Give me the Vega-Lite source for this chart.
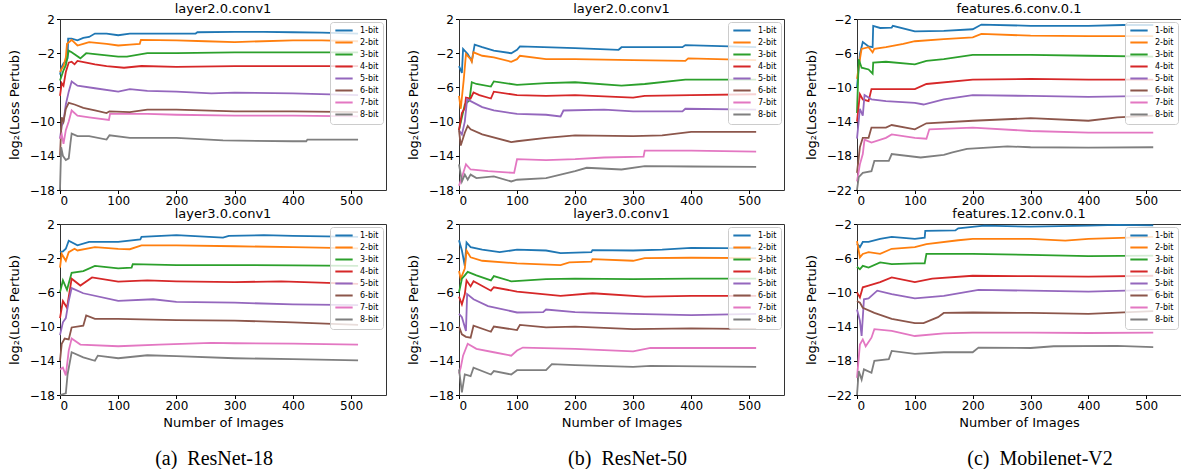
{
"$schema": "https://vega.github.io/schema/vega-lite/v6.json",
"padding": {"left": 7, "top": 2, "right": 0, "bottom": 0},
"background": "white",
"datasets": {"d": [
{"p":"a1","b":"1-bit","n":0,"v":-4.5},{"p":"a1","b":"1-bit","n":3,"v":-3.6},{"p":"a1","b":"1-bit","n":6,"v":-3.2},{"p":"a1","b":"1-bit","n":10,"v":-3.0},{"p":"a1","b":"1-bit","n":13,"v":-2.6},{"p":"a1","b":"1-bit","n":14,"v":-0.3},{"p":"a1","b":"1-bit","n":20,"v":-0.3},{"p":"a1","b":"1-bit","n":30,"v":-0.5},{"p":"a1","b":"1-bit","n":40,"v":-0.2},{"p":"a1","b":"1-bit","n":50,"v":-0.1},{"p":"a1","b":"1-bit","n":60,"v":0.3},{"p":"a1","b":"1-bit","n":80,"v":0.3},{"p":"a1","b":"1-bit","n":100,"v":0.1},{"p":"a1","b":"1-bit","n":120,"v":0.3},{"p":"a1","b":"1-bit","n":150,"v":0.3},{"p":"a1","b":"1-bit","n":200,"v":0.3},{"p":"a1","b":"1-bit","n":233,"v":0.3},{"p":"a1","b":"1-bit","n":236,"v":0.45},{"p":"a1","b":"1-bit","n":300,"v":0.5},{"p":"a1","b":"1-bit","n":350,"v":0.5},{"p":"a1","b":"1-bit","n":400,"v":0.45},{"p":"a1","b":"1-bit","n":450,"v":0.4},{"p":"a1","b":"1-bit","n":512,"v":0.3},
{"p":"a1","b":"2-bit","n":0,"v":-4.2},{"p":"a1","b":"2-bit","n":3,"v":-3.8},{"p":"a1","b":"2-bit","n":6,"v":-3.5},{"p":"a1","b":"2-bit","n":10,"v":-2.5},{"p":"a1","b":"2-bit","n":12,"v":-0.9},{"p":"a1","b":"2-bit","n":20,"v":-0.45},{"p":"a1","b":"2-bit","n":30,"v":-1.1},{"p":"a1","b":"2-bit","n":40,"v":-0.9},{"p":"a1","b":"2-bit","n":50,"v":-0.7},{"p":"a1","b":"2-bit","n":80,"v":-0.9},{"p":"a1","b":"2-bit","n":100,"v":-1.1},{"p":"a1","b":"2-bit","n":120,"v":-1.0},{"p":"a1","b":"2-bit","n":137,"v":-0.9},{"p":"a1","b":"2-bit","n":139,"v":-0.45},{"p":"a1","b":"2-bit","n":200,"v":-0.5},{"p":"a1","b":"2-bit","n":250,"v":-0.6},{"p":"a1","b":"2-bit","n":300,"v":-0.7},{"p":"a1","b":"2-bit","n":400,"v":-0.5},{"p":"a1","b":"2-bit","n":450,"v":-0.5},{"p":"a1","b":"2-bit","n":512,"v":-0.6},
{"p":"a1","b":"3-bit","n":0,"v":-5.2},{"p":"a1","b":"3-bit","n":3,"v":-4.6},{"p":"a1","b":"3-bit","n":6,"v":-4.0},{"p":"a1","b":"3-bit","n":10,"v":-3.4},{"p":"a1","b":"3-bit","n":15,"v":-1.7},{"p":"a1","b":"3-bit","n":20,"v":-1.9},{"p":"a1","b":"3-bit","n":35,"v":-2.6},{"p":"a1","b":"3-bit","n":45,"v":-2.0},{"p":"a1","b":"3-bit","n":60,"v":-2.1},{"p":"a1","b":"3-bit","n":100,"v":-2.4},{"p":"a1","b":"3-bit","n":115,"v":-2.4},{"p":"a1","b":"3-bit","n":150,"v":-2.0},{"p":"a1","b":"3-bit","n":200,"v":-2.0},{"p":"a1","b":"3-bit","n":300,"v":-1.9},{"p":"a1","b":"3-bit","n":400,"v":-1.9},{"p":"a1","b":"3-bit","n":512,"v":-1.9},
{"p":"a1","b":"4-bit","n":0,"v":-7.0},{"p":"a1","b":"4-bit","n":3,"v":-5.5},{"p":"a1","b":"4-bit","n":6,"v":-5.8},{"p":"a1","b":"4-bit","n":10,"v":-4.2},{"p":"a1","b":"4-bit","n":15,"v":-3.1},{"p":"a1","b":"4-bit","n":20,"v":-3.0},{"p":"a1","b":"4-bit","n":25,"v":-3.3},{"p":"a1","b":"4-bit","n":30,"v":-2.9},{"p":"a1","b":"4-bit","n":45,"v":-3.1},{"p":"a1","b":"4-bit","n":60,"v":-3.3},{"p":"a1","b":"4-bit","n":80,"v":-3.5},{"p":"a1","b":"4-bit","n":110,"v":-3.7},{"p":"a1","b":"4-bit","n":140,"v":-3.5},{"p":"a1","b":"4-bit","n":200,"v":-3.6},{"p":"a1","b":"4-bit","n":300,"v":-3.5},{"p":"a1","b":"4-bit","n":400,"v":-3.5},{"p":"a1","b":"4-bit","n":512,"v":-3.5},
{"p":"a1","b":"5-bit","n":0,"v":-12},{"p":"a1","b":"5-bit","n":3,"v":-10.5},{"p":"a1","b":"5-bit","n":6,"v":-10},{"p":"a1","b":"5-bit","n":10,"v":-8},{"p":"a1","b":"5-bit","n":15,"v":-6.5},{"p":"a1","b":"5-bit","n":20,"v":-5.3},{"p":"a1","b":"5-bit","n":30,"v":-5.8},{"p":"a1","b":"5-bit","n":60,"v":-6.1},{"p":"a1","b":"5-bit","n":100,"v":-6.5},{"p":"a1","b":"5-bit","n":120,"v":-6.2},{"p":"a1","b":"5-bit","n":150,"v":-6.4},{"p":"a1","b":"5-bit","n":200,"v":-6.5},{"p":"a1","b":"5-bit","n":260,"v":-6.7},{"p":"a1","b":"5-bit","n":300,"v":-6.6},{"p":"a1","b":"5-bit","n":400,"v":-6.7},{"p":"a1","b":"5-bit","n":512,"v":-6.9},
{"p":"a1","b":"6-bit","n":0,"v":-14},{"p":"a1","b":"6-bit","n":3,"v":-9.5},{"p":"a1","b":"6-bit","n":6,"v":-10},{"p":"a1","b":"6-bit","n":10,"v":-8.5},{"p":"a1","b":"6-bit","n":15,"v":-7.8},{"p":"a1","b":"6-bit","n":25,"v":-8.0},{"p":"a1","b":"6-bit","n":40,"v":-8.4},{"p":"a1","b":"6-bit","n":60,"v":-8.7},{"p":"a1","b":"6-bit","n":80,"v":-9.0},{"p":"a1","b":"6-bit","n":85,"v":-8.8},{"p":"a1","b":"6-bit","n":120,"v":-8.9},{"p":"a1","b":"6-bit","n":150,"v":-8.6},{"p":"a1","b":"6-bit","n":200,"v":-8.6},{"p":"a1","b":"6-bit","n":300,"v":-8.8},{"p":"a1","b":"6-bit","n":400,"v":-8.8},{"p":"a1","b":"6-bit","n":512,"v":-8.9},
{"p":"a1","b":"7-bit","n":0,"v":-12},{"p":"a1","b":"7-bit","n":3,"v":-11.5},{"p":"a1","b":"7-bit","n":6,"v":-12.6},{"p":"a1","b":"7-bit","n":10,"v":-11},{"p":"a1","b":"7-bit","n":15,"v":-10},{"p":"a1","b":"7-bit","n":20,"v":-8.7},{"p":"a1","b":"7-bit","n":30,"v":-9.3},{"p":"a1","b":"7-bit","n":50,"v":-9.5},{"p":"a1","b":"7-bit","n":84,"v":-9.8},{"p":"a1","b":"7-bit","n":86,"v":-9.1},{"p":"a1","b":"7-bit","n":150,"v":-9.1},{"p":"a1","b":"7-bit","n":200,"v":-9.2},{"p":"a1","b":"7-bit","n":300,"v":-9.3},{"p":"a1","b":"7-bit","n":400,"v":-9.3},{"p":"a1","b":"7-bit","n":512,"v":-9.4},
{"p":"a1","b":"8-bit","n":0,"v":-18},{"p":"a1","b":"8-bit","n":2,"v":-13},{"p":"a1","b":"8-bit","n":5,"v":-14},{"p":"a1","b":"8-bit","n":10,"v":-14.5},{"p":"a1","b":"8-bit","n":15,"v":-14.3},{"p":"a1","b":"8-bit","n":18,"v":-12.5},{"p":"a1","b":"8-bit","n":20,"v":-11.4},{"p":"a1","b":"8-bit","n":30,"v":-11.7},{"p":"a1","b":"8-bit","n":50,"v":-11.7},{"p":"a1","b":"8-bit","n":80,"v":-12.1},{"p":"a1","b":"8-bit","n":85,"v":-11.6},{"p":"a1","b":"8-bit","n":120,"v":-11.9},{"p":"a1","b":"8-bit","n":200,"v":-11.9},{"p":"a1","b":"8-bit","n":280,"v":-12.2},{"p":"a1","b":"8-bit","n":400,"v":-12.3},{"p":"a1","b":"8-bit","n":423,"v":-12.3},{"p":"a1","b":"8-bit","n":425,"v":-12.1},{"p":"a1","b":"8-bit","n":512,"v":-12.1},

{"p":"a2","b":"1-bit","n":0,"v":-1.3},{"p":"a2","b":"1-bit","n":5,"v":-1.2},{"p":"a2","b":"1-bit","n":10,"v":-0.9},{"p":"a2","b":"1-bit","n":15,"v":0.05},{"p":"a2","b":"1-bit","n":30,"v":-0.5},{"p":"a2","b":"1-bit","n":50,"v":-0.1},{"p":"a2","b":"1-bit","n":100,"v":-0.1},{"p":"a2","b":"1-bit","n":138,"v":0.2},{"p":"a2","b":"1-bit","n":140,"v":0.5},{"p":"a2","b":"1-bit","n":200,"v":0.7},{"p":"a2","b":"1-bit","n":280,"v":0.4},{"p":"a2","b":"1-bit","n":290,"v":0.6},{"p":"a2","b":"1-bit","n":350,"v":0.7},{"p":"a2","b":"1-bit","n":400,"v":0.6},{"p":"a2","b":"1-bit","n":512,"v":0.5},
{"p":"a2","b":"2-bit","n":0,"v":-3.1},{"p":"a2","b":"2-bit","n":3,"v":-1.5},{"p":"a2","b":"2-bit","n":10,"v":-2.3},{"p":"a2","b":"2-bit","n":15,"v":-1.3},{"p":"a2","b":"2-bit","n":25,"v":-0.9},{"p":"a2","b":"2-bit","n":30,"v":-1.1},{"p":"a2","b":"2-bit","n":60,"v":-0.7},{"p":"a2","b":"2-bit","n":100,"v":-0.9},{"p":"a2","b":"2-bit","n":120,"v":-0.95},{"p":"a2","b":"2-bit","n":140,"v":-0.5},{"p":"a2","b":"2-bit","n":200,"v":-0.5},{"p":"a2","b":"2-bit","n":300,"v":-0.6},{"p":"a2","b":"2-bit","n":400,"v":-0.7},{"p":"a2","b":"2-bit","n":512,"v":-0.85},
{"p":"a2","b":"3-bit","n":0,"v":-6.0},{"p":"a2","b":"3-bit","n":5,"v":-4.6},{"p":"a2","b":"3-bit","n":12,"v":-5.7},{"p":"a2","b":"3-bit","n":20,"v":-3.7},{"p":"a2","b":"3-bit","n":40,"v":-3.5},{"p":"a2","b":"3-bit","n":60,"v":-2.9},{"p":"a2","b":"3-bit","n":100,"v":-3.2},{"p":"a2","b":"3-bit","n":123,"v":-3.1},{"p":"a2","b":"3-bit","n":125,"v":-2.7},{"p":"a2","b":"3-bit","n":200,"v":-2.8},{"p":"a2","b":"3-bit","n":300,"v":-2.8},{"p":"a2","b":"3-bit","n":400,"v":-2.85},{"p":"a2","b":"3-bit","n":512,"v":-2.9},
{"p":"a2","b":"4-bit","n":0,"v":-9},{"p":"a2","b":"4-bit","n":5,"v":-7},{"p":"a2","b":"4-bit","n":12,"v":-7.8},{"p":"a2","b":"4-bit","n":20,"v":-4.4},{"p":"a2","b":"4-bit","n":35,"v":-5.2},{"p":"a2","b":"4-bit","n":55,"v":-4.25},{"p":"a2","b":"4-bit","n":100,"v":-4.75},{"p":"a2","b":"4-bit","n":150,"v":-4.6},{"p":"a2","b":"4-bit","n":200,"v":-4.7},{"p":"a2","b":"4-bit","n":300,"v":-4.8},{"p":"a2","b":"4-bit","n":380,"v":-4.7},{"p":"a2","b":"4-bit","n":512,"v":-5.0},
{"p":"a2","b":"5-bit","n":0,"v":-11},{"p":"a2","b":"5-bit","n":5,"v":-9.5},{"p":"a2","b":"5-bit","n":10,"v":-9},{"p":"a2","b":"5-bit","n":15,"v":-7},{"p":"a2","b":"5-bit","n":20,"v":-5.5},{"p":"a2","b":"5-bit","n":40,"v":-6.1},{"p":"a2","b":"5-bit","n":100,"v":-7.0},{"p":"a2","b":"5-bit","n":160,"v":-6.8},{"p":"a2","b":"5-bit","n":200,"v":-7.1},{"p":"a2","b":"5-bit","n":300,"v":-7.2},{"p":"a2","b":"5-bit","n":400,"v":-7.4},{"p":"a2","b":"5-bit","n":512,"v":-7.5},
{"p":"a2","b":"6-bit","n":0,"v":-14},{"p":"a2","b":"6-bit","n":3,"v":-12},{"p":"a2","b":"6-bit","n":8,"v":-11.4},{"p":"a2","b":"6-bit","n":15,"v":-11.5},{"p":"a2","b":"6-bit","n":20,"v":-10.1},{"p":"a2","b":"6-bit","n":40,"v":-9.9},{"p":"a2","b":"6-bit","n":45,"v":-8.7},{"p":"a2","b":"6-bit","n":60,"v":-9.1},{"p":"a2","b":"6-bit","n":100,"v":-9.1},{"p":"a2","b":"6-bit","n":200,"v":-9.25},{"p":"a2","b":"6-bit","n":300,"v":-9.3},{"p":"a2","b":"6-bit","n":400,"v":-9.5},{"p":"a2","b":"6-bit","n":512,"v":-9.8},
{"p":"a2","b":"7-bit","n":0,"v":-15},{"p":"a2","b":"7-bit","n":5,"v":-14.8},{"p":"a2","b":"7-bit","n":10,"v":-15.7},{"p":"a2","b":"7-bit","n":15,"v":-12.8},{"p":"a2","b":"7-bit","n":20,"v":-11.4},{"p":"a2","b":"7-bit","n":35,"v":-12.1},{"p":"a2","b":"7-bit","n":100,"v":-12.3},{"p":"a2","b":"7-bit","n":170,"v":-12.1},{"p":"a2","b":"7-bit","n":260,"v":-11.9},{"p":"a2","b":"7-bit","n":300,"v":-11.95},{"p":"a2","b":"7-bit","n":400,"v":-12.0},{"p":"a2","b":"7-bit","n":512,"v":-12.1},
{"p":"a2","b":"8-bit","n":0,"v":-18},{"p":"a2","b":"8-bit","n":10,"v":-17.8},{"p":"a2","b":"8-bit","n":13,"v":-15.6},{"p":"a2","b":"8-bit","n":20,"v":-13.0},{"p":"a2","b":"8-bit","n":40,"v":-13.6},{"p":"a2","b":"8-bit","n":60,"v":-14.0},{"p":"a2","b":"8-bit","n":65,"v":-13.4},{"p":"a2","b":"8-bit","n":100,"v":-13.7},{"p":"a2","b":"8-bit","n":150,"v":-13.35},{"p":"a2","b":"8-bit","n":200,"v":-13.45},{"p":"a2","b":"8-bit","n":300,"v":-13.7},{"p":"a2","b":"8-bit","n":400,"v":-13.8},{"p":"a2","b":"8-bit","n":512,"v":-13.95},

{"p":"b1","b":"1-bit","n":0,"v":-3.5},{"p":"b1","b":"1-bit","n":5,"v":-4.3},{"p":"b1","b":"1-bit","n":7,"v":-1.5},{"p":"b1","b":"1-bit","n":15,"v":-2.1},{"p":"b1","b":"1-bit","n":22,"v":-2.9},{"p":"b1","b":"1-bit","n":27,"v":-1.0},{"p":"b1","b":"1-bit","n":40,"v":-1.3},{"p":"b1","b":"1-bit","n":60,"v":-1.7},{"p":"b1","b":"1-bit","n":90,"v":-2.0},{"p":"b1","b":"1-bit","n":100,"v":-1.6},{"p":"b1","b":"1-bit","n":105,"v":-1.2},{"p":"b1","b":"1-bit","n":200,"v":-1.4},{"p":"b1","b":"1-bit","n":275,"v":-1.6},{"p":"b1","b":"1-bit","n":280,"v":-1.3},{"p":"b1","b":"1-bit","n":385,"v":-1.3},{"p":"b1","b":"1-bit","n":390,"v":-1.05},{"p":"b1","b":"1-bit","n":512,"v":-1.3},
{"p":"b1","b":"2-bit","n":0,"v":-7},{"p":"b1","b":"2-bit","n":3,"v":-8.5},{"p":"b1","b":"2-bit","n":8,"v":-5.2},{"p":"b1","b":"2-bit","n":12,"v":-2.1},{"p":"b1","b":"2-bit","n":20,"v":-2.7},{"p":"b1","b":"2-bit","n":22,"v":-3.0},{"p":"b1","b":"2-bit","n":25,"v":-1.9},{"p":"b1","b":"2-bit","n":40,"v":-2.3},{"p":"b1","b":"2-bit","n":60,"v":-2.5},{"p":"b1","b":"2-bit","n":90,"v":-3.0},{"p":"b1","b":"2-bit","n":100,"v":-2.7},{"p":"b1","b":"2-bit","n":105,"v":-2.3},{"p":"b1","b":"2-bit","n":150,"v":-2.7},{"p":"b1","b":"2-bit","n":200,"v":-2.7},{"p":"b1","b":"2-bit","n":300,"v":-2.8},{"p":"b1","b":"2-bit","n":390,"v":-2.9},{"p":"b1","b":"2-bit","n":395,"v":-2.6},{"p":"b1","b":"2-bit","n":512,"v":-2.8},
{"p":"b1","b":"3-bit","n":0,"v":-11},{"p":"b1","b":"3-bit","n":10,"v":-8},{"p":"b1","b":"3-bit","n":18,"v":-7.5},{"p":"b1","b":"3-bit","n":22,"v":-5.4},{"p":"b1","b":"3-bit","n":30,"v":-5.6},{"p":"b1","b":"3-bit","n":55,"v":-5.9},{"p":"b1","b":"3-bit","n":60,"v":-5.3},{"p":"b1","b":"3-bit","n":100,"v":-5.7},{"p":"b1","b":"3-bit","n":150,"v":-5.5},{"p":"b1","b":"3-bit","n":200,"v":-5.4},{"p":"b1","b":"3-bit","n":280,"v":-5.8},{"p":"b1","b":"3-bit","n":320,"v":-5.6},{"p":"b1","b":"3-bit","n":390,"v":-5.1},{"p":"b1","b":"3-bit","n":512,"v":-5.1},
{"p":"b1","b":"4-bit","n":0,"v":-11},{"p":"b1","b":"4-bit","n":5,"v":-9},{"p":"b1","b":"4-bit","n":10,"v":-8.4},{"p":"b1","b":"4-bit","n":12,"v":-7.2},{"p":"b1","b":"4-bit","n":20,"v":-7.3},{"p":"b1","b":"4-bit","n":25,"v":-6.6},{"p":"b1","b":"4-bit","n":35,"v":-6.9},{"p":"b1","b":"4-bit","n":55,"v":-7.3},{"p":"b1","b":"4-bit","n":60,"v":-6.5},{"p":"b1","b":"4-bit","n":100,"v":-6.9},{"p":"b1","b":"4-bit","n":150,"v":-7.0},{"p":"b1","b":"4-bit","n":200,"v":-6.9},{"p":"b1","b":"4-bit","n":300,"v":-7.2},{"p":"b1","b":"4-bit","n":320,"v":-7.0},{"p":"b1","b":"4-bit","n":400,"v":-6.9},{"p":"b1","b":"4-bit","n":512,"v":-6.8},
{"p":"b1","b":"5-bit","n":0,"v":-11},{"p":"b1","b":"5-bit","n":5,"v":-11.5},{"p":"b1","b":"5-bit","n":10,"v":-10},{"p":"b1","b":"5-bit","n":14,"v":-7.4},{"p":"b1","b":"5-bit","n":20,"v":-7.6},{"p":"b1","b":"5-bit","n":40,"v":-8.3},{"p":"b1","b":"5-bit","n":60,"v":-8.7},{"p":"b1","b":"5-bit","n":100,"v":-9.1},{"p":"b1","b":"5-bit","n":150,"v":-9.2},{"p":"b1","b":"5-bit","n":175,"v":-9.4},{"p":"b1","b":"5-bit","n":180,"v":-8.7},{"p":"b1","b":"5-bit","n":250,"v":-8.6},{"p":"b1","b":"5-bit","n":300,"v":-8.8},{"p":"b1","b":"5-bit","n":385,"v":-8.8},{"p":"b1","b":"5-bit","n":390,"v":-8.5},{"p":"b1","b":"5-bit","n":512,"v":-8.6},
{"p":"b1","b":"6-bit","n":0,"v":-11},{"p":"b1","b":"6-bit","n":3,"v":-12.8},{"p":"b1","b":"6-bit","n":10,"v":-11.3},{"p":"b1","b":"6-bit","n":15,"v":-10.5},{"p":"b1","b":"6-bit","n":20,"v":-10.9},{"p":"b1","b":"6-bit","n":40,"v":-11.5},{"p":"b1","b":"6-bit","n":90,"v":-12.4},{"p":"b1","b":"6-bit","n":100,"v":-12.3},{"p":"b1","b":"6-bit","n":150,"v":-11.9},{"p":"b1","b":"6-bit","n":200,"v":-11.6},{"p":"b1","b":"6-bit","n":300,"v":-11.7},{"p":"b1","b":"6-bit","n":350,"v":-11.6},{"p":"b1","b":"6-bit","n":400,"v":-11.2},{"p":"b1","b":"6-bit","n":512,"v":-11.2},
{"p":"b1","b":"7-bit","n":0,"v":-17.5},{"p":"b1","b":"7-bit","n":5,"v":-16.5},{"p":"b1","b":"7-bit","n":12,"v":-15.0},{"p":"b1","b":"7-bit","n":20,"v":-15.6},{"p":"b1","b":"7-bit","n":50,"v":-15.8},{"p":"b1","b":"7-bit","n":95,"v":-16.0},{"p":"b1","b":"7-bit","n":100,"v":-14.4},{"p":"b1","b":"7-bit","n":150,"v":-14.5},{"p":"b1","b":"7-bit","n":200,"v":-14.4},{"p":"b1","b":"7-bit","n":250,"v":-14.2},{"p":"b1","b":"7-bit","n":318,"v":-14.1},{"p":"b1","b":"7-bit","n":320,"v":-13.4},{"p":"b1","b":"7-bit","n":400,"v":-13.4},{"p":"b1","b":"7-bit","n":512,"v":-13.5},
{"p":"b1","b":"8-bit","n":0,"v":-15},{"p":"b1","b":"8-bit","n":5,"v":-17},{"p":"b1","b":"8-bit","n":10,"v":-16.2},{"p":"b1","b":"8-bit","n":15,"v":-16.8},{"p":"b1","b":"8-bit","n":20,"v":-16.2},{"p":"b1","b":"8-bit","n":30,"v":-16.6},{"p":"b1","b":"8-bit","n":60,"v":-16.4},{"p":"b1","b":"8-bit","n":90,"v":-17.0},{"p":"b1","b":"8-bit","n":100,"v":-16.8},{"p":"b1","b":"8-bit","n":150,"v":-16.6},{"p":"b1","b":"8-bit","n":175,"v":-16.2},{"p":"b1","b":"8-bit","n":200,"v":-15.8},{"p":"b1","b":"8-bit","n":220,"v":-15.4},{"p":"b1","b":"8-bit","n":280,"v":-15.6},{"p":"b1","b":"8-bit","n":320,"v":-15.2},{"p":"b1","b":"8-bit","n":400,"v":-15.25},{"p":"b1","b":"8-bit","n":512,"v":-15.3},

{"p":"b2","b":"1-bit","n":0,"v":0.1},{"p":"b2","b":"1-bit","n":5,"v":-1.1},{"p":"b2","b":"1-bit","n":10,"v":-2.9},{"p":"b2","b":"1-bit","n":13,"v":-0.15},{"p":"b2","b":"1-bit","n":20,"v":-0.7},{"p":"b2","b":"1-bit","n":40,"v":-1.0},{"p":"b2","b":"1-bit","n":70,"v":-1.3},{"p":"b2","b":"1-bit","n":100,"v":-1.0},{"p":"b2","b":"1-bit","n":150,"v":-1.1},{"p":"b2","b":"1-bit","n":175,"v":-1.4},{"p":"b2","b":"1-bit","n":228,"v":-1.3},{"p":"b2","b":"1-bit","n":230,"v":-1.05},{"p":"b2","b":"1-bit","n":300,"v":-1.1},{"p":"b2","b":"1-bit","n":350,"v":-1.0},{"p":"b2","b":"1-bit","n":400,"v":-0.8},{"p":"b2","b":"1-bit","n":512,"v":-0.85},
{"p":"b2","b":"2-bit","n":0,"v":-3.5},{"p":"b2","b":"2-bit","n":3,"v":-4.4},{"p":"b2","b":"2-bit","n":10,"v":-3.2},{"p":"b2","b":"2-bit","n":13,"v":-1.1},{"p":"b2","b":"2-bit","n":20,"v":-1.9},{"p":"b2","b":"2-bit","n":40,"v":-2.3},{"p":"b2","b":"2-bit","n":100,"v":-2.6},{"p":"b2","b":"2-bit","n":175,"v":-2.8},{"p":"b2","b":"2-bit","n":190,"v":-2.5},{"p":"b2","b":"2-bit","n":228,"v":-2.4},{"p":"b2","b":"2-bit","n":230,"v":-2.1},{"p":"b2","b":"2-bit","n":300,"v":-2.3},{"p":"b2","b":"2-bit","n":320,"v":-2.0},{"p":"b2","b":"2-bit","n":400,"v":-1.95},{"p":"b2","b":"2-bit","n":512,"v":-2.0},
{"p":"b2","b":"3-bit","n":0,"v":-6},{"p":"b2","b":"3-bit","n":5,"v":-4.4},{"p":"b2","b":"3-bit","n":10,"v":-4.0},{"p":"b2","b":"3-bit","n":15,"v":-3.6},{"p":"b2","b":"3-bit","n":30,"v":-4.0},{"p":"b2","b":"3-bit","n":55,"v":-4.6},{"p":"b2","b":"3-bit","n":60,"v":-4.1},{"p":"b2","b":"3-bit","n":90,"v":-4.7},{"p":"b2","b":"3-bit","n":150,"v":-4.45},{"p":"b2","b":"3-bit","n":200,"v":-4.4},{"p":"b2","b":"3-bit","n":300,"v":-4.45},{"p":"b2","b":"3-bit","n":400,"v":-4.4},{"p":"b2","b":"3-bit","n":512,"v":-4.4},
{"p":"b2","b":"4-bit","n":0,"v":-6.5},{"p":"b2","b":"4-bit","n":5,"v":-7.4},{"p":"b2","b":"4-bit","n":10,"v":-6.2},{"p":"b2","b":"4-bit","n":13,"v":-4.6},{"p":"b2","b":"4-bit","n":20,"v":-5.3},{"p":"b2","b":"4-bit","n":25,"v":-4.7},{"p":"b2","b":"4-bit","n":55,"v":-5.8},{"p":"b2","b":"4-bit","n":60,"v":-5.4},{"p":"b2","b":"4-bit","n":100,"v":-5.9},{"p":"b2","b":"4-bit","n":175,"v":-6.4},{"p":"b2","b":"4-bit","n":230,"v":-6.1},{"p":"b2","b":"4-bit","n":320,"v":-6.5},{"p":"b2","b":"4-bit","n":400,"v":-6.4},{"p":"b2","b":"4-bit","n":512,"v":-6.4},
{"p":"b2","b":"5-bit","n":0,"v":-8.5},{"p":"b2","b":"5-bit","n":5,"v":-8.9},{"p":"b2","b":"5-bit","n":12,"v":-10.5},{"p":"b2","b":"5-bit","n":14,"v":-6.2},{"p":"b2","b":"5-bit","n":25,"v":-6.8},{"p":"b2","b":"5-bit","n":50,"v":-7.6},{"p":"b2","b":"5-bit","n":100,"v":-8.35},{"p":"b2","b":"5-bit","n":145,"v":-8.3},{"p":"b2","b":"5-bit","n":150,"v":-8.0},{"p":"b2","b":"5-bit","n":200,"v":-8.3},{"p":"b2","b":"5-bit","n":300,"v":-8.5},{"p":"b2","b":"5-bit","n":400,"v":-8.65},{"p":"b2","b":"5-bit","n":512,"v":-8.5},
{"p":"b2","b":"6-bit","n":0,"v":-10},{"p":"b2","b":"6-bit","n":5,"v":-10.9},{"p":"b2","b":"6-bit","n":12,"v":-11.2},{"p":"b2","b":"6-bit","n":20,"v":-11.3},{"p":"b2","b":"6-bit","n":25,"v":-9.9},{"p":"b2","b":"6-bit","n":55,"v":-10.6},{"p":"b2","b":"6-bit","n":60,"v":-10.0},{"p":"b2","b":"6-bit","n":100,"v":-10.4},{"p":"b2","b":"6-bit","n":105,"v":-9.8},{"p":"b2","b":"6-bit","n":150,"v":-10.1},{"p":"b2","b":"6-bit","n":200,"v":-10.0},{"p":"b2","b":"6-bit","n":300,"v":-10.3},{"p":"b2","b":"6-bit","n":400,"v":-10.2},{"p":"b2","b":"6-bit","n":512,"v":-10.3},
{"p":"b2","b":"7-bit","n":0,"v":-15.5},{"p":"b2","b":"7-bit","n":3,"v":-14.8},{"p":"b2","b":"7-bit","n":7,"v":-13.4},{"p":"b2","b":"7-bit","n":15,"v":-12.0},{"p":"b2","b":"7-bit","n":30,"v":-12.6},{"p":"b2","b":"7-bit","n":60,"v":-13.0},{"p":"b2","b":"7-bit","n":90,"v":-13.4},{"p":"b2","b":"7-bit","n":100,"v":-12.8},{"p":"b2","b":"7-bit","n":110,"v":-12.45},{"p":"b2","b":"7-bit","n":200,"v":-12.6},{"p":"b2","b":"7-bit","n":300,"v":-12.9},{"p":"b2","b":"7-bit","n":330,"v":-12.5},{"p":"b2","b":"7-bit","n":512,"v":-12.5},
{"p":"b2","b":"8-bit","n":0,"v":-15},{"p":"b2","b":"8-bit","n":5,"v":-17.7},{"p":"b2","b":"8-bit","n":10,"v":-15.6},{"p":"b2","b":"8-bit","n":20,"v":-15.8},{"p":"b2","b":"8-bit","n":25,"v":-14.8},{"p":"b2","b":"8-bit","n":55,"v":-15.6},{"p":"b2","b":"8-bit","n":60,"v":-15.2},{"p":"b2","b":"8-bit","n":90,"v":-15.6},{"p":"b2","b":"8-bit","n":100,"v":-15.1},{"p":"b2","b":"8-bit","n":150,"v":-15.1},{"p":"b2","b":"8-bit","n":160,"v":-14.4},{"p":"b2","b":"8-bit","n":200,"v":-14.5},{"p":"b2","b":"8-bit","n":300,"v":-14.7},{"p":"b2","b":"8-bit","n":330,"v":-14.6},{"p":"b2","b":"8-bit","n":512,"v":-14.7},

{"p":"c1","b":"1-bit","n":0,"v":-10},{"p":"c1","b":"1-bit","n":5,"v":-6.1},{"p":"c1","b":"1-bit","n":10,"v":-4.7},{"p":"c1","b":"1-bit","n":20,"v":-5.2},{"p":"c1","b":"1-bit","n":27,"v":-5.3},{"p":"c1","b":"1-bit","n":28,"v":-2.8},{"p":"c1","b":"1-bit","n":40,"v":-3.05},{"p":"c1","b":"1-bit","n":60,"v":-3.0},{"p":"c1","b":"1-bit","n":62,"v":-2.8},{"p":"c1","b":"1-bit","n":100,"v":-3.45},{"p":"c1","b":"1-bit","n":150,"v":-3.4},{"p":"c1","b":"1-bit","n":200,"v":-3.2},{"p":"c1","b":"1-bit","n":215,"v":-2.65},{"p":"c1","b":"1-bit","n":300,"v":-2.8},{"p":"c1","b":"1-bit","n":400,"v":-2.8},{"p":"c1","b":"1-bit","n":460,"v":-2.7},{"p":"c1","b":"1-bit","n":512,"v":-2.7},
{"p":"c1","b":"2-bit","n":0,"v":-9},{"p":"c1","b":"2-bit","n":5,"v":-6.7},{"p":"c1","b":"2-bit","n":8,"v":-5.5},{"p":"c1","b":"2-bit","n":20,"v":-5.3},{"p":"c1","b":"2-bit","n":27,"v":-5.9},{"p":"c1","b":"2-bit","n":30,"v":-5.5},{"p":"c1","b":"2-bit","n":50,"v":-5.3},{"p":"c1","b":"2-bit","n":80,"v":-4.9},{"p":"c1","b":"2-bit","n":100,"v":-4.6},{"p":"c1","b":"2-bit","n":150,"v":-4.35},{"p":"c1","b":"2-bit","n":200,"v":-4.15},{"p":"c1","b":"2-bit","n":215,"v":-3.75},{"p":"c1","b":"2-bit","n":300,"v":-3.95},{"p":"c1","b":"2-bit","n":400,"v":-4.0},{"p":"c1","b":"2-bit","n":512,"v":-4.0},
{"p":"c1","b":"3-bit","n":0,"v":-13},{"p":"c1","b":"3-bit","n":3,"v":-6.7},{"p":"c1","b":"3-bit","n":8,"v":-7.7},{"p":"c1","b":"3-bit","n":20,"v":-7.9},{"p":"c1","b":"3-bit","n":27,"v":-8.4},{"p":"c1","b":"3-bit","n":28,"v":-7.1},{"p":"c1","b":"3-bit","n":50,"v":-7.0},{"p":"c1","b":"3-bit","n":100,"v":-7.3},{"p":"c1","b":"3-bit","n":120,"v":-6.9},{"p":"c1","b":"3-bit","n":150,"v":-6.7},{"p":"c1","b":"3-bit","n":200,"v":-6.2},{"p":"c1","b":"3-bit","n":300,"v":-6.2},{"p":"c1","b":"3-bit","n":400,"v":-6.3},{"p":"c1","b":"3-bit","n":512,"v":-6.4},
{"p":"c1","b":"4-bit","n":0,"v":-14},{"p":"c1","b":"4-bit","n":5,"v":-10.8},{"p":"c1","b":"4-bit","n":10,"v":-11.4},{"p":"c1","b":"4-bit","n":20,"v":-11.6},{"p":"c1","b":"4-bit","n":25,"v":-10.2},{"p":"c1","b":"4-bit","n":50,"v":-10.2},{"p":"c1","b":"4-bit","n":100,"v":-10.2},{"p":"c1","b":"4-bit","n":120,"v":-9.6},{"p":"c1","b":"4-bit","n":200,"v":-9.1},{"p":"c1","b":"4-bit","n":300,"v":-9.0},{"p":"c1","b":"4-bit","n":400,"v":-9.1},{"p":"c1","b":"4-bit","n":512,"v":-9.1},
{"p":"c1","b":"5-bit","n":0,"v":-16},{"p":"c1","b":"5-bit","n":5,"v":-12.5},{"p":"c1","b":"5-bit","n":10,"v":-13.3},{"p":"c1","b":"5-bit","n":13,"v":-10.9},{"p":"c1","b":"5-bit","n":25,"v":-11.4},{"p":"c1","b":"5-bit","n":50,"v":-11.6},{"p":"c1","b":"5-bit","n":100,"v":-11.8},{"p":"c1","b":"5-bit","n":115,"v":-12.0},{"p":"c1","b":"5-bit","n":150,"v":-11.4},{"p":"c1","b":"5-bit","n":200,"v":-10.9},{"p":"c1","b":"5-bit","n":300,"v":-11.0},{"p":"c1","b":"5-bit","n":400,"v":-11.1},{"p":"c1","b":"5-bit","n":512,"v":-11.0},
{"p":"c1","b":"6-bit","n":0,"v":-20},{"p":"c1","b":"6-bit","n":5,"v":-17},{"p":"c1","b":"6-bit","n":10,"v":-15.9},{"p":"c1","b":"6-bit","n":20,"v":-15.9},{"p":"c1","b":"6-bit","n":25,"v":-14.7},{"p":"c1","b":"6-bit","n":50,"v":-14.7},{"p":"c1","b":"6-bit","n":60,"v":-14.4},{"p":"c1","b":"6-bit","n":100,"v":-14.9},{"p":"c1","b":"6-bit","n":120,"v":-14.2},{"p":"c1","b":"6-bit","n":200,"v":-13.9},{"p":"c1","b":"6-bit","n":300,"v":-13.6},{"p":"c1","b":"6-bit","n":400,"v":-13.9},{"p":"c1","b":"6-bit","n":450,"v":-13.5},{"p":"c1","b":"6-bit","n":512,"v":-13.3},
{"p":"c1","b":"7-bit","n":0,"v":-21},{"p":"c1","b":"7-bit","n":5,"v":-19},{"p":"c1","b":"7-bit","n":10,"v":-17.8},{"p":"c1","b":"7-bit","n":13,"v":-16.1},{"p":"c1","b":"7-bit","n":25,"v":-16.45},{"p":"c1","b":"7-bit","n":50,"v":-15.9},{"p":"c1","b":"7-bit","n":60,"v":-15.5},{"p":"c1","b":"7-bit","n":100,"v":-15.9},{"p":"c1","b":"7-bit","n":120,"v":-16.0},{"p":"c1","b":"7-bit","n":125,"v":-14.9},{"p":"c1","b":"7-bit","n":200,"v":-14.7},{"p":"c1","b":"7-bit","n":300,"v":-15.1},{"p":"c1","b":"7-bit","n":400,"v":-15.3},{"p":"c1","b":"7-bit","n":512,"v":-15.3},
{"p":"c1","b":"8-bit","n":0,"v":-22},{"p":"c1","b":"8-bit","n":3,"v":-20.5},{"p":"c1","b":"8-bit","n":10,"v":-20.0},{"p":"c1","b":"8-bit","n":25,"v":-19.8},{"p":"c1","b":"8-bit","n":30,"v":-18.6},{"p":"c1","b":"8-bit","n":55,"v":-18.6},{"p":"c1","b":"8-bit","n":60,"v":-17.8},{"p":"c1","b":"8-bit","n":110,"v":-18.2},{"p":"c1","b":"8-bit","n":150,"v":-17.9},{"p":"c1","b":"8-bit","n":165,"v":-17.6},{"p":"c1","b":"8-bit","n":190,"v":-17.2},{"p":"c1","b":"8-bit","n":260,"v":-16.9},{"p":"c1","b":"8-bit","n":300,"v":-17.0},{"p":"c1","b":"8-bit","n":400,"v":-17.05},{"p":"c1","b":"8-bit","n":512,"v":-17.0},

{"p":"c2","b":"1-bit","n":0,"v":-4.3},{"p":"c2","b":"1-bit","n":5,"v":-4.7},{"p":"c2","b":"1-bit","n":10,"v":-4.1},{"p":"c2","b":"1-bit","n":20,"v":-4.1},{"p":"c2","b":"1-bit","n":40,"v":-3.75},{"p":"c2","b":"1-bit","n":60,"v":-3.5},{"p":"c2","b":"1-bit","n":100,"v":-3.75},{"p":"c2","b":"1-bit","n":117,"v":-3.6},{"p":"c2","b":"1-bit","n":118,"v":-2.8},{"p":"c2","b":"1-bit","n":170,"v":-2.75},{"p":"c2","b":"1-bit","n":175,"v":-2.5},{"p":"c2","b":"1-bit","n":220,"v":-2.2},{"p":"c2","b":"1-bit","n":300,"v":-2.3},{"p":"c2","b":"1-bit","n":400,"v":-2.2},{"p":"c2","b":"1-bit","n":450,"v":-2.1},{"p":"c2","b":"1-bit","n":512,"v":-2.15},
{"p":"c2","b":"2-bit","n":0,"v":-4},{"p":"c2","b":"2-bit","n":5,"v":-5.9},{"p":"c2","b":"2-bit","n":10,"v":-5.5},{"p":"c2","b":"2-bit","n":20,"v":-5.3},{"p":"c2","b":"2-bit","n":40,"v":-5.5},{"p":"c2","b":"2-bit","n":60,"v":-4.9},{"p":"c2","b":"2-bit","n":100,"v":-4.7},{"p":"c2","b":"2-bit","n":120,"v":-4.35},{"p":"c2","b":"2-bit","n":175,"v":-3.9},{"p":"c2","b":"2-bit","n":200,"v":-3.75},{"p":"c2","b":"2-bit","n":300,"v":-3.75},{"p":"c2","b":"2-bit","n":360,"v":-3.95},{"p":"c2","b":"2-bit","n":400,"v":-3.75},{"p":"c2","b":"2-bit","n":512,"v":-3.5},
{"p":"c2","b":"3-bit","n":0,"v":-7},{"p":"c2","b":"3-bit","n":5,"v":-7.3},{"p":"c2","b":"3-bit","n":10,"v":-6.9},{"p":"c2","b":"3-bit","n":20,"v":-7.1},{"p":"c2","b":"3-bit","n":40,"v":-6.5},{"p":"c2","b":"3-bit","n":60,"v":-6.7},{"p":"c2","b":"3-bit","n":100,"v":-6.6},{"p":"c2","b":"3-bit","n":117,"v":-6.6},{"p":"c2","b":"3-bit","n":120,"v":-5.5},{"p":"c2","b":"3-bit","n":200,"v":-5.5},{"p":"c2","b":"3-bit","n":300,"v":-5.6},{"p":"c2","b":"3-bit","n":400,"v":-5.75},{"p":"c2","b":"3-bit","n":512,"v":-5.7},
{"p":"c2","b":"4-bit","n":0,"v":-10},{"p":"c2","b":"4-bit","n":5,"v":-10.6},{"p":"c2","b":"4-bit","n":10,"v":-9.4},{"p":"c2","b":"4-bit","n":20,"v":-9.2},{"p":"c2","b":"4-bit","n":40,"v":-8.8},{"p":"c2","b":"4-bit","n":60,"v":-8.25},{"p":"c2","b":"4-bit","n":100,"v":-8.8},{"p":"c2","b":"4-bit","n":130,"v":-8.4},{"p":"c2","b":"4-bit","n":200,"v":-8.05},{"p":"c2","b":"4-bit","n":300,"v":-8.1},{"p":"c2","b":"4-bit","n":400,"v":-8.15},{"p":"c2","b":"4-bit","n":512,"v":-8.05},
{"p":"c2","b":"5-bit","n":0,"v":-12},{"p":"c2","b":"5-bit","n":5,"v":-13.3},{"p":"c2","b":"5-bit","n":8,"v":-15.1},{"p":"c2","b":"5-bit","n":12,"v":-10.8},{"p":"c2","b":"5-bit","n":20,"v":-10.7},{"p":"c2","b":"5-bit","n":35,"v":-9.8},{"p":"c2","b":"5-bit","n":60,"v":-10.2},{"p":"c2","b":"5-bit","n":100,"v":-10.7},{"p":"c2","b":"5-bit","n":150,"v":-10.4},{"p":"c2","b":"5-bit","n":210,"v":-9.7},{"p":"c2","b":"5-bit","n":300,"v":-9.8},{"p":"c2","b":"5-bit","n":400,"v":-9.9},{"p":"c2","b":"5-bit","n":512,"v":-9.7},
{"p":"c2","b":"6-bit","n":0,"v":-11},{"p":"c2","b":"6-bit","n":5,"v":-11.2},{"p":"c2","b":"6-bit","n":10,"v":-11.8},{"p":"c2","b":"6-bit","n":30,"v":-12.4},{"p":"c2","b":"6-bit","n":60,"v":-13.1},{"p":"c2","b":"6-bit","n":100,"v":-13.6},{"p":"c2","b":"6-bit","n":115,"v":-13.6},{"p":"c2","b":"6-bit","n":140,"v":-12.9},{"p":"c2","b":"6-bit","n":150,"v":-12.4},{"p":"c2","b":"6-bit","n":200,"v":-12.35},{"p":"c2","b":"6-bit","n":300,"v":-12.4},{"p":"c2","b":"6-bit","n":400,"v":-12.5},{"p":"c2","b":"6-bit","n":512,"v":-12.2},
{"p":"c2","b":"7-bit","n":0,"v":-20},{"p":"c2","b":"7-bit","n":5,"v":-16.1},{"p":"c2","b":"7-bit","n":10,"v":-15.5},{"p":"c2","b":"7-bit","n":15,"v":-16.3},{"p":"c2","b":"7-bit","n":25,"v":-15.3},{"p":"c2","b":"7-bit","n":30,"v":-14.3},{"p":"c2","b":"7-bit","n":60,"v":-14.5},{"p":"c2","b":"7-bit","n":100,"v":-15.1},{"p":"c2","b":"7-bit","n":150,"v":-14.8},{"p":"c2","b":"7-bit","n":200,"v":-14.7},{"p":"c2","b":"7-bit","n":300,"v":-14.7},{"p":"c2","b":"7-bit","n":400,"v":-14.75},{"p":"c2","b":"7-bit","n":512,"v":-14.7},
{"p":"c2","b":"8-bit","n":0,"v":-22},{"p":"c2","b":"8-bit","n":3,"v":-19.2},{"p":"c2","b":"8-bit","n":8,"v":-20.2},{"p":"c2","b":"8-bit","n":12,"v":-19.0},{"p":"c2","b":"8-bit","n":25,"v":-19.4},{"p":"c2","b":"8-bit","n":30,"v":-18.0},{"p":"c2","b":"8-bit","n":55,"v":-17.8},{"p":"c2","b":"8-bit","n":60,"v":-16.85},{"p":"c2","b":"8-bit","n":100,"v":-17.2},{"p":"c2","b":"8-bit","n":150,"v":-17.0},{"p":"c2","b":"8-bit","n":200,"v":-17.0},{"p":"c2","b":"8-bit","n":210,"v":-16.45},{"p":"c2","b":"8-bit","n":300,"v":-16.5},{"p":"c2","b":"8-bit","n":340,"v":-16.3},{"p":"c2","b":"8-bit","n":450,"v":-16.25},{"p":"c2","b":"8-bit","n":512,"v":-16.4}
]},
"concat": [
  {"width": 326, "height": 171, "title": "layer2.0.conv1", "data": {"name": "d"}, "transform": [{"filter": "datum.p === 'a1'"}],
   "mark": {"type": "line", "strokeWidth": 1.8},
   "encoding": {
    "x": {"field": "n", "type": "quantitative", "scale": {"domain": [0, 560], "nice": false}, "axis": {"values": [0,100,200,300,400,500], "title": null}},
    "y": {"field": "v", "type": "quantitative", "scale": {"domain": [-18, 2], "nice": false}, "axis": {"values": [-18,-14,-10,-6,-2,2], "title": "log₂(Loss Pertub)"}},
    "color": {"field": "b", "type": "nominal", "scale": {"domain": ["1-bit","2-bit","3-bit","4-bit","5-bit","6-bit","7-bit","8-bit"], "range": ["#1f77b4","#ff7f0e","#2ca02c","#d62728","#9467bd","#8c564b","#e377c2","#7f7f7f"]}, "legend": {"title": null}}}},
  {"width": 325, "height": 171, "title": "layer2.0.conv1", "data": {"name": "d"}, "transform": [{"filter": "datum.p === 'b1'"}],
   "mark": {"type": "line", "strokeWidth": 1.8},
   "encoding": {
    "x": {"field": "n", "type": "quantitative", "scale": {"domain": [0, 560], "nice": false}, "axis": {"values": [0,100,200,300,400,500], "title": null}},
    "y": {"field": "v", "type": "quantitative", "scale": {"domain": [-18, 2], "nice": false}, "axis": {"values": [-18,-14,-10,-6,-2,2], "title": "log₂(Loss Pertub)"}},
    "color": {"field": "b", "type": "nominal", "scale": {"domain": ["1-bit","2-bit","3-bit","4-bit","5-bit","6-bit","7-bit","8-bit"], "range": ["#1f77b4","#ff7f0e","#2ca02c","#d62728","#9467bd","#8c564b","#e377c2","#7f7f7f"]}, "legend": {"title": null}}}},
  {"width": 324, "height": 171, "title": "features.6.conv.0.1", "data": {"name": "d"}, "transform": [{"filter": "datum.p === 'c1'"}],
   "mark": {"type": "line", "strokeWidth": 1.8},
   "encoding": {
    "x": {"field": "n", "type": "quantitative", "scale": {"domain": [0, 560], "nice": false}, "axis": {"values": [0,100,200,300,400,500], "title": null}},
    "y": {"field": "v", "type": "quantitative", "scale": {"domain": [-22, -2], "nice": false}, "axis": {"values": [-22,-18,-14,-10,-6,-2], "title": "log₂(Loss Pertub)"}},
    "color": {"field": "b", "type": "nominal", "scale": {"domain": ["1-bit","2-bit","3-bit","4-bit","5-bit","6-bit","7-bit","8-bit"], "range": ["#1f77b4","#ff7f0e","#2ca02c","#d62728","#9467bd","#8c564b","#e377c2","#7f7f7f"]}, "legend": {"title": null}}}},
  {"width": 326, "height": 171, "title": "layer3.0.conv1", "data": {"name": "d"}, "transform": [{"filter": "datum.p === 'a2'"}],
   "mark": {"type": "line", "strokeWidth": 1.8},
   "encoding": {
    "x": {"field": "n", "type": "quantitative", "scale": {"domain": [0, 560], "nice": false}, "axis": {"values": [0,100,200,300,400,500], "title": "Number of Images"}},
    "y": {"field": "v", "type": "quantitative", "scale": {"domain": [-18, 2], "nice": false}, "axis": {"values": [-18,-14,-10,-6,-2,2], "title": "log₂(Loss Pertub)"}},
    "color": {"field": "b", "type": "nominal", "scale": {"domain": ["1-bit","2-bit","3-bit","4-bit","5-bit","6-bit","7-bit","8-bit"], "range": ["#1f77b4","#ff7f0e","#2ca02c","#d62728","#9467bd","#8c564b","#e377c2","#7f7f7f"]}, "legend": {"title": null}}}},
  {"width": 325, "height": 171, "title": "layer3.0.conv1", "data": {"name": "d"}, "transform": [{"filter": "datum.p === 'b2'"}],
   "mark": {"type": "line", "strokeWidth": 1.8},
   "encoding": {
    "x": {"field": "n", "type": "quantitative", "scale": {"domain": [0, 560], "nice": false}, "axis": {"values": [0,100,200,300,400,500], "title": "Number of Images"}},
    "y": {"field": "v", "type": "quantitative", "scale": {"domain": [-18, 2], "nice": false}, "axis": {"values": [-18,-14,-10,-6,-2,2], "title": "log₂(Loss Pertub)"}},
    "color": {"field": "b", "type": "nominal", "scale": {"domain": ["1-bit","2-bit","3-bit","4-bit","5-bit","6-bit","7-bit","8-bit"], "range": ["#1f77b4","#ff7f0e","#2ca02c","#d62728","#9467bd","#8c564b","#e377c2","#7f7f7f"]}, "legend": {"title": null}}}},
  {"width": 324, "height": 171, "title": "features.12.conv.0.1", "data": {"name": "d"}, "transform": [{"filter": "datum.p === 'c2'"}],
   "mark": {"type": "line", "strokeWidth": 1.8},
   "encoding": {
    "x": {"field": "n", "type": "quantitative", "scale": {"domain": [0, 560], "nice": false}, "axis": {"values": [0,100,200,300,400,500], "title": "Number of Images"}},
    "y": {"field": "v", "type": "quantitative", "scale": {"domain": [-22, -2], "nice": false}, "axis": {"values": [-22,-18,-14,-10,-6,-2], "title": "log₂(Loss Pertub)"}},
    "color": {"field": "b", "type": "nominal", "scale": {"domain": ["1-bit","2-bit","3-bit","4-bit","5-bit","6-bit","7-bit","8-bit"], "range": ["#1f77b4","#ff7f0e","#2ca02c","#d62728","#9467bd","#8c564b","#e377c2","#7f7f7f"]}, "legend": {"title": null}}}},
  {"width": 326, "height": 40, "view": {"stroke": null}, "data": {"values": [{"c": "(a)\u2002ResNet-18"}]},
   "mark": {"type": "text", "font": "Liberation Serif", "fontSize": 20, "align": "center", "baseline": "middle", "dx": -9, "dy": 10, "color": "black"},
   "encoding": {"text": {"field": "c"}}},
  {"width": 325, "height": 40, "view": {"stroke": null}, "data": {"values": [{"c": "(b)\u2002ResNet-50"}]},
   "mark": {"type": "text", "font": "Liberation Serif", "fontSize": 20, "align": "center", "baseline": "middle", "dx": 6, "dy": 10, "color": "black"},
   "encoding": {"text": {"field": "c"}}},
  {"width": 324, "height": 40, "view": {"stroke": null}, "data": {"values": [{"c": "(c)\u2002Mobilenet-V2"}]},
   "mark": {"type": "text", "font": "Liberation Serif", "fontSize": 20, "align": "center", "baseline": "middle", "dx": 21, "dy": 10, "color": "black"},
   "encoding": {"text": {"field": "c"}}}
],
"columns": 3,
"spacing": {"row": 34, "column": 73},
"bounds": "flush",
"resolve": {"scale": {"color": "independent"}, "legend": {"color": "independent"}},
"config": {
 "font": "DejaVu Sans",
 "view": {"stroke": "#333", "strokeWidth": 1},
 "axis": {"domain": false, "grid": false, "labelFontSize": 12, "labelColor": "black", "labelFont": "DejaVu Sans", "tickColor": "black", "tickSize": 3.5, "labelPadding": 2, "titleFontSize": 13, "titleFontWeight": "normal", "titleColor": "black", "titleFont": "DejaVu Sans"},
 "axisY": {"titlePadding": 8},
 "axisX": {"titlePadding": 5},
 "title": {"fontSize": 13, "fontWeight": "normal", "font": "DejaVu Sans", "color": "black", "offset": -3},
 "legend": {"orient": "top-right", "offset": 3, "labelFontSize": 8, "labelFont": "DejaVu Sans", "labelColor": "black", "symbolType": "stroke", "symbolSize": 300, "symbolStrokeWidth": 2, "strokeColor": "#cccccc", "fillColor": "rgba(255,255,255,0.8)", "padding": 4, "cornerRadius": 3, "clipHeight": 9.2, "rowPadding": 2, "labelOffset": 6}
}
}
